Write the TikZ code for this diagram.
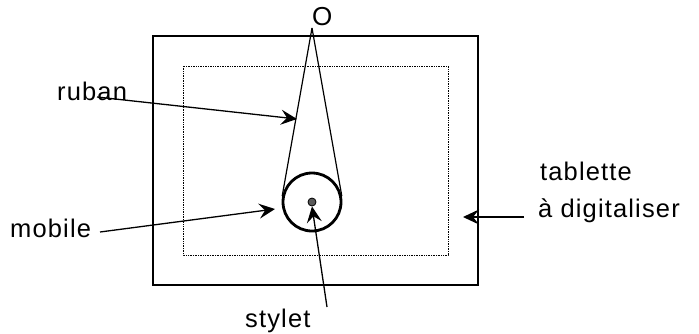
\documentclass[tikz,border=0pt]{standalone}
\usepackage{fontspec}
\setmainfont{Liberation Sans}[LetterSpace=4.5]
\usetikzlibrary{arrows.meta}
\tikzset{
  label text/.style={anchor=base west, inner sep=0pt, font=\fontsize{25.5}{25.5}\selectfont},
  ribbon/.style={line width=1.2pt},
  pointer/.style={->, line width=1.3pt}
}
\begin{document}
\begin{tikzpicture}[>={Stealth[length=16pt, width=15pt, inset=6pt]}, x=1pt, y=-1pt]
  \useasboundingbox (0,0) rectangle (699,333);
  % Tablet frames
  \draw[line width=1.7pt] (153,36) rectangle (478,285);
  \draw[densely dotted, line width=0.7pt] (183,66) rectangle (448,255);
  % Moving wheel and pen
  \node[draw, circle, line width=2.8pt, minimum size=58pt, inner sep=0pt] (wheel) at (312,202) {};
  \node[draw, circle, fill=gray!70!black, line width=0.8pt, minimum size=8pt, inner sep=0pt] (pen) at (312,202) {};
  % Ribbon from the fixed point
  \coordinate (apex) at (312,28);
  \draw[ribbon] (apex) -- (wheel.169);
  \draw[ribbon] (apex) -- (wheel.11);
  % Labels
  \node[label text, font=\fontsize{26}{26}\selectfont] (o) at (312,25) {O};
  \node[label text] (ruban) at (57,100) {ruban};
  \node[label text] (mobile) at (10,237) {mobile};
  \node[label text] (stylet) at (245,327) {stylet};
  \node[label text] (tablette) at (540,180) {tablette};
  \node[label text] (digit) at (538,217) {à digitaliser};
  % Free ends and targets of the arrows
  \coordinate (rubanstart) at (97,97);
  \coordinate (rubantip) at (297,119);
  \coordinate (mobilestart) at (100,232);
  \coordinate (mobiletip) at (275,209);
  \coordinate (styletstart) at (327,307);
  \coordinate (tablestart) at (524,217);
  \coordinate (tabletip) at (463,217);
  % Arrows
  \draw[pointer] (rubanstart) -- (rubantip);
  \draw[pointer] (mobilestart) -- (mobiletip);
  \draw[pointer] (styletstart) -- (pen.south);
  \draw[pointer, line width=1.8pt] (tablestart) -- (tabletip);
\end{tikzpicture}
\end{document}
